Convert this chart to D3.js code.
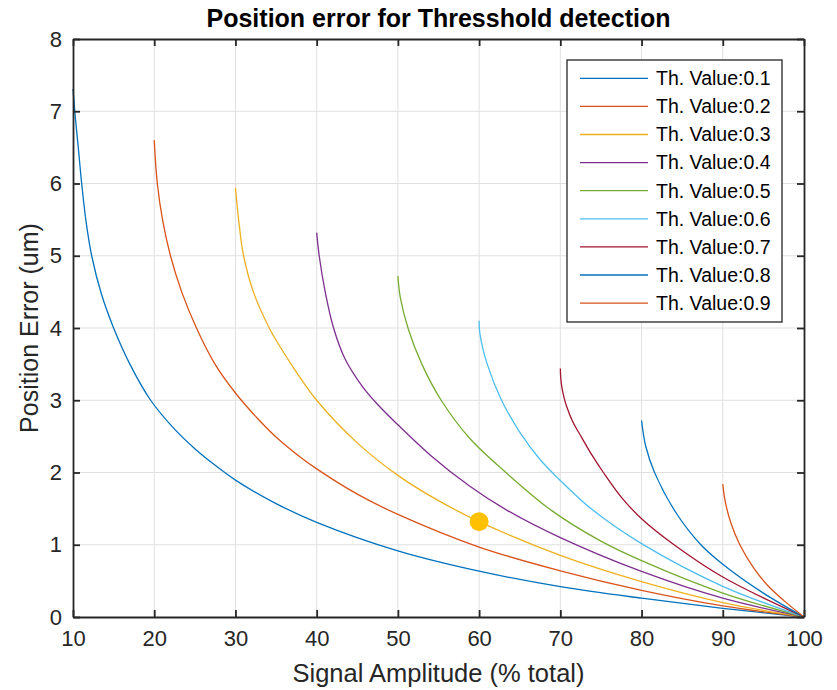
<!DOCTYPE html>
<html>
<head>
<meta charset="utf-8">
<script src="https://cdn.jsdelivr.net/npm/d3@7"></script>
<style>
  body { margin: 0; background: #ffffff; }
  text { font-family: "Liberation Sans", Arial, Helvetica, sans-serif; fill: #262626; }
</style>
</head>
<body>
<svg id="chart" width="837" height="690"></svg>
<script>
// ---- data -----------------------------------------------------------
const xTicks = [10, 20, 30, 40, 50, 60, 70, 80, 90, 100];
const yTicks = [0, 1, 2, 3, 4, 5, 6, 7, 8];
const thresholds = [0.1, 0.2, 0.3, 0.4, 0.5, 0.6, 0.7, 0.8, 0.9];

// [signal amplitude (% total), position error (um)]
const errTh01 = [[10,7.31],[10.3,6.9],[10.65,6.5],[11.05,6.02],[11.6,5.48],[12.3,5.0],[13.5,4.47],[15,4.0],[17,3.5],[19.56,3.0],[22.5,2.6],[25,2.33],[27.5,2.1],[30,1.895],[35,1.57],[40,1.31],[50,0.915],[60,0.634],[70,0.42],[80,0.26],[90,0.12],[100,0]];
const errTh02 = [[20,6.6],[20.38,6.0],[21.04,5.49],[22.0,5.0],[23.38,4.5],[25.2,4.0],[27.48,3.5],[30,3.1],[32.7,2.75],[35,2.49],[38,2.21],[40,2.05],[45,1.7],[50,1.42],[60,0.968],[70,0.64],[80,0.37],[90,0.155],[100,0]];
const errTh03 = [[30,5.94],[30.4,5.49],[31.0,5.0],[32.24,4.49],[34.16,4.0],[35,3.83],[37.5,3.39],[40,3.0],[45,2.41],[50,1.96],[55,1.61],[60,1.32],[70,0.853],[80,0.49],[90,0.2],[100,0]];
const errTh04 = [[40,5.32],[40.31,5.0],[41.05,4.5],[42.08,4.0],[43.5,3.57],[45.57,3.2],[47.6,2.93],[50,2.66],[54,2.24],[58.86,1.81],[63.45,1.476],[70,1.098],[80,0.63],[90,0.26],[100,0]];
const errTh05 = [[50,4.72],[50.3,4.42],[51.3,3.98],[52.95,3.5],[55.33,3.0],[58.86,2.47],[63.3,2.0],[68.9,1.476],[75,1.05],[80,0.78],[90,0.332],[100,0]];
const errTh06 = [[60,4.10],[60.1,3.92],[61.0,3.5],[62.76,3.0],[65,2.56],[67.5,2.18],[70,1.89],[74.04,1.476],[80,1.015],[90,0.425],[100,0]];
const errTh07 = [[70,3.44],[70.05,3.31],[70.2,3.17],[70.45,3.04],[70.76,2.92],[71.5,2.71],[72.6,2.49],[73.9,2.24],[75.3,2.0],[77.5,1.66],[80,1.36],[84,1.0],[90,0.553],[100,0]];
const errTh08 = [[80,2.72],[80.5,2.37],[81.6,2.0],[84.2,1.45],[87.3,1.0],[90,0.73],[95,0.33],[100,0]];
const errTh09 = [[90,1.84],[90.3,1.6],[91,1.3],[92.1,1.0],[93.8,0.68],[95.5,0.44],[97.5,0.23],[100,0]];
const curves = [errTh01, errTh02, errTh03, errTh04, errTh05, errTh06, errTh07, errTh08, errTh09];

// highlighted operating point
const markerPoint = [60, 1.32];

// ---- styling --------------------------------------------------------
const palette = ["#0072BD", "#D95319", "#EDB120", "#7E2F8E", "#77AC30",
                 "#4DBEEE", "#A2142F", "#0072BD", "#D95319"];
const axisColor = "#262626";
const gridColor = "#e0e0e0";

const plot = { left: 73, right: 804, top: 39, bottom: 617 };

const svg = d3.select("#chart");
svg.append("rect").attr("width", 837).attr("height", 690).attr("fill", "#ffffff");

const x = d3.scaleLinear().domain([10, 100]).range([plot.left, plot.right]);
const y = d3.scaleLinear().domain([0, 8]).range([plot.bottom, plot.top]);

// grid
const grid = svg.append("g").attr("class", "grid");
grid.selectAll("line.vx").data(xTicks.slice(1, -1)).join("line")
  .attr("x1", d => x(d)).attr("x2", d => x(d))
  .attr("y1", plot.top).attr("y2", plot.bottom)
  .attr("stroke", gridColor).attr("stroke-width", 1);
grid.selectAll("line.hy").data(yTicks.slice(1, -1)).join("line")
  .attr("x1", plot.left).attr("x2", plot.right)
  .attr("y1", d => y(d)).attr("y2", d => y(d))
  .attr("stroke", gridColor).attr("stroke-width", 1);

// curves
const line = d3.line().x(d => x(d[0])).y(d => y(d[1])).curve(d3.curveCatmullRom.alpha(0.5));
svg.append("g").selectAll("path").data(curves).join("path")
  .attr("d", line)
  .attr("fill", "none")
  .attr("stroke", (d, i) => palette[i])
  .attr("stroke-width", 1.3);

// marker
svg.append("circle")
  .attr("cx", x(markerPoint[0])).attr("cy", y(markerPoint[1]))
  .attr("r", 9.5).attr("fill", "#FFC000");

// axes (box with inward ticks on all four sides)
const tickLen = 7;
const gx = svg.append("g").attr("transform", `translate(0,${plot.bottom})`)
  .call(d3.axisBottom(x).tickValues(xTicks).tickSizeInner(-tickLen).tickSizeOuter(0).tickPadding(13));
const gy = svg.append("g").attr("transform", `translate(${plot.left},0)`)
  .call(d3.axisLeft(y).tickValues(yTicks).tickSizeInner(-tickLen).tickSizeOuter(0).tickPadding(11));
const gxTop = svg.append("g").attr("transform", `translate(0,${plot.top})`)
  .call(d3.axisTop(x).tickValues(xTicks).tickSizeInner(-tickLen).tickSizeOuter(0).tickFormat(""));
const gyRight = svg.append("g").attr("transform", `translate(${plot.right},0)`)
  .call(d3.axisRight(y).tickValues(yTicks).tickSizeInner(-tickLen).tickSizeOuter(0).tickFormat(""));

[gx, gy, gxTop, gyRight].forEach(g => {
  g.select(".domain").attr("stroke", axisColor).attr("stroke-width", 1.8);
  g.selectAll(".tick line").attr("stroke", axisColor).attr("stroke-width", 1.8);
  g.selectAll(".tick text").attr("fill", axisColor)
    .style("font-family", '"Liberation Sans", Arial, sans-serif').style("font-size", "22px");
});

// titles
svg.append("text").attr("x", (plot.left + plot.right) / 2).attr("y", 27)
  .attr("text-anchor", "middle").style("font-size", "25px").style("font-weight", "bold")
  .style("fill", "#000")
  .text("Position error for Thresshold detection");
svg.append("text").attr("x", (plot.left + plot.right) / 2).attr("y", 682)
  .attr("text-anchor", "middle").style("font-size", "25.5px")
  .text("Signal Amplitude (% total)");
svg.append("text").attr("transform", `translate(38,${(plot.top + plot.bottom) / 2}) rotate(-90)`)
  .attr("text-anchor", "middle").style("font-size", "25px")
  .text("Position Error (um)");

// legend
const legend = svg.append("g");
const lg = { x: 567, y: 60, w: 215, h: 262, row: 28.1, first: 78.3 };
legend.append("rect").attr("x", lg.x).attr("y", lg.y).attr("width", lg.w).attr("height", lg.h)
  .attr("fill", "#ffffff").attr("stroke", "#262626").attr("stroke-width", 1.3);
const rows = legend.selectAll("g.row").data(thresholds).join("g")
  .attr("transform", (d, i) => `translate(0,${lg.first + i * lg.row})`);
rows.append("line").attr("x1", 580).attr("x2", 648).attr("y1", 0).attr("y2", 0)
  .attr("stroke", (d, i) => palette[i]).attr("stroke-width", 1.3);
rows.append("text").attr("x", 656).attr("y", 0).attr("dy", "0.35em")
  .style("font-size", "19.5px").style("fill", "#000")
  .text(d => "Th. Value:" + d);
</script>
</body>
</html>
